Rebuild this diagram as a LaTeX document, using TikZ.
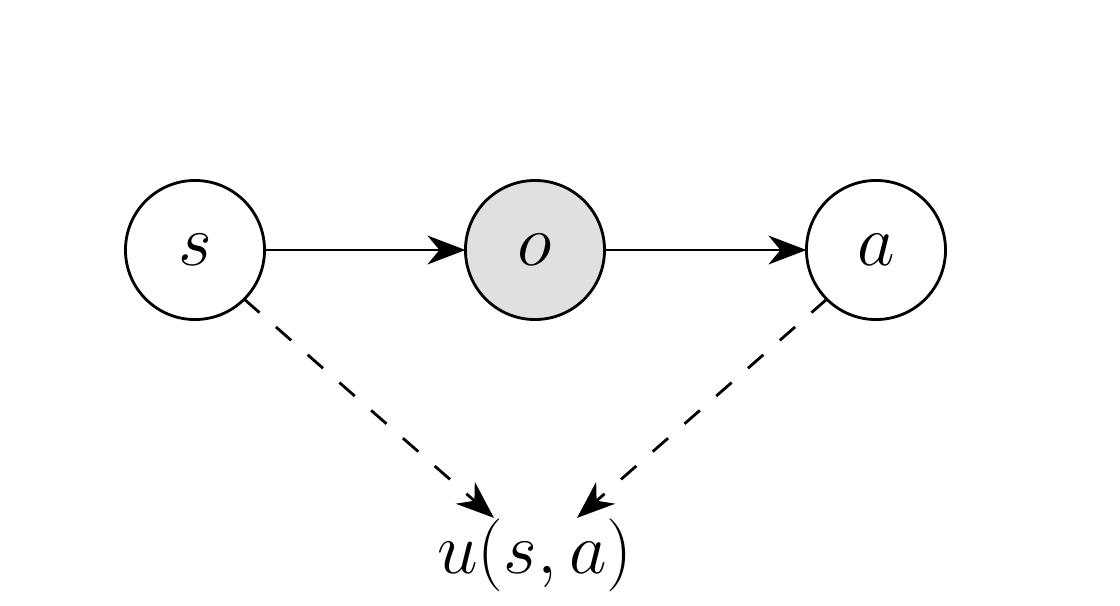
\documentclass[tikz,border=0pt]{standalone}
\usetikzlibrary{arrows.meta}
\begin{document}
\begin{tikzpicture}[x=0.01cm,y=-0.01cm,
  var/.style={circle,draw,line width=0.8pt,minimum size=1.39cm,inner sep=0pt,outer sep=0pt,font=\fontsize{20}{24}\selectfont},
  obs/.style={var,fill=black!12},
  conn/.style={line width=0.8pt,-{Stealth[length=10.8pt,width=8.2pt,inset=3.4pt]}},
  dep/.style={conn,dash pattern=on 5.8pt off 6.2pt}]
\useasboundingbox (0,0) rectangle (1120,605);
\node[var] (s) at (195,250) {$s$};
\node[obs] (o) at (535,250) {$o$};
\node[var] (a) at (876,250) {$a$};
\node[inner sep=0pt,font=\fontsize{20}{24}\selectfont] (u) at (535,555) {$u(s,a)$};
\draw[conn] (s) -- (o);
\draw[conn] (o) -- (a);
\draw[dep] (s.-45) -- ([xshift=-0.41cm]u.north);
\draw[dep] (a.-135) -- ([xshift=0.42cm]u.north);
\end{tikzpicture}
\end{document}
